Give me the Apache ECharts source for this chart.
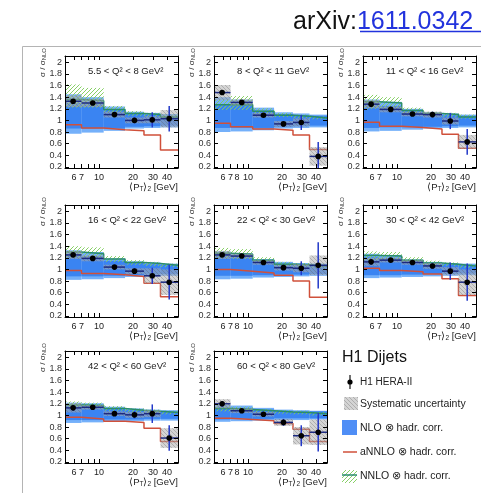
<!DOCTYPE html>
<html><head><meta charset="utf-8">
<script src="https://cdn.jsdelivr.net/npm/echarts@6/dist/echarts.min.js"></script>
<style>html,body{margin:0;padding:0;background:#fff}#c{width:481px;height:493px}</style>
</head><body><div id="c"></div>
<script>
// ---------- data ----------
const binEdges = [5, 7, 11, 17, 25, 35, 50];
const pointX = [5.9, 8.8, 13.7, 20.6, 29.6, 41.8];
const yTicks = [0.2, 0.4, 0.6, 0.8, 1, 1.2, 1.4, 1.6, 1.8, 2];
const xLabelsA = [6, 7, 10, 20, 30, 40];
const xLabelsB = [6, 7, 8, 10, 20, 30, 40];
const xTickVals = [6, 7, 8, 9, 10, 20, 30, 40];
const panelTitles = ['5.5 < Q² < 8 GeV²', '8 < Q² < 11 GeV²', '11 < Q² < 16 GeV²', '16 < Q² < 22 GeV²',
  '22 < Q² < 30 GeV²', '30 < Q² < 42 GeV²', '42 < Q² < 60 GeV²', '60 < Q² < 80 GeV²'];
const panelXLabels = ['A', 'B', 'A', 'A', 'B', 'A', 'A', 'B'];

const dataValues = [
  [1.33, 1.30, 1.10, 1.00, 1.01, 1.03],
  [1.48, 1.31, 1.09, 0.94, 0.965, 0.38],
  [1.28, 1.19, 1.11, 1.10, 0.99, 0.63],
  [1.25, 1.19, 1.04, 0.97, 0.89, 0.78],
  [1.25, 1.23, 1.12, 1.03, 1.02, 1.07],
  [1.13, 1.16, 1.12, 1.06, 0.97, 0.78],
  [1.13, 1.14, 1.03, 1.01, 1.03, 0.61],
  [1.20, 1.08, 1.02, 0.88, 0.65, 0.71]
];
const dataErrors = [
  [0.03, 0.03, 0.03, 0.05, 0.13, 0.22],
  [0.04, 0.03, 0.03, 0.05, 0.13, 0.25],
  [0.03, 0.03, 0.03, 0.05, 0.14, 0.22],
  [0.03, 0.03, 0.03, 0.05, 0.14, 0.30],
  [0.03, 0.03, 0.03, 0.05, 0.12, 0.40],
  [0.05, 0.03, 0.03, 0.05, 0.15, 0.32],
  [0.05, 0.04, 0.03, 0.06, 0.16, 0.22],
  [0.05, 0.03, 0.03, 0.06, 0.18, 0.33]
];
const sysErrors = [
  [0.10, 0.07, 0.05, 0.05, 0.06, 0.15],
  [0.13, 0.05, 0.04, 0.05, 0.07, 0.16],
  [0.07, 0.05, 0.04, 0.05, 0.06, 0.12],
  [0.07, 0.05, 0.04, 0.05, 0.13, 0.22],
  [0.07, 0.04, 0.04, 0.05, 0.07, 0.17],
  [0.07, 0.04, 0.04, 0.05, 0.07, 0.22],
  [0.08, 0.04, 0.04, 0.05, 0.06, 0.17],
  [0.08, 0.04, 0.04, 0.06, 0.15, 0.22]
];
const nloLo = [
  [0.77, 0.79, 0.82, 0.86, 0.87, 0.88],
  [0.80, 0.81, 0.83, 0.86, 0.87, 0.88],
  [0.81, 0.82, 0.84, 0.86, 0.87, 0.88],
  [0.82, 0.83, 0.85, 0.87, 0.88, 0.89],
  [0.83, 0.84, 0.86, 0.87, 0.88, 0.89],
  [0.85, 0.86, 0.87, 0.88, 0.89, 0.90],
  [0.87, 0.88, 0.89, 0.90, 0.91, 0.91],
  [0.89, 0.90, 0.91, 0.92, 0.92, 0.93]
];
const nloHi = [
  [1.45, 1.40, 1.24, 1.15, 1.13, 1.11],
  [1.40, 1.36, 1.22, 1.14, 1.12, 1.10],
  [1.36, 1.32, 1.20, 1.14, 1.12, 1.10],
  [1.33, 1.30, 1.19, 1.14, 1.12, 1.10],
  [1.31, 1.28, 1.18, 1.13, 1.11, 1.10],
  [1.27, 1.25, 1.17, 1.13, 1.11, 1.10],
  [1.22, 1.21, 1.15, 1.12, 1.10, 1.09],
  [1.18, 1.17, 1.13, 1.10, 1.09, 1.08]
];
const nloInnerLo = [
  [0.86, 0.86, 0.86, 0.89, 0.90, 0.91],
  [0.87, 0.87, 0.87, 0.89, 0.90, 0.91],
  [0.87, 0.88, 0.88, 0.89, 0.90, 0.91],
  [0.88, 0.88, 0.89, 0.90, 0.91, 0.92],
  [0.89, 0.89, 0.90, 0.91, 0.91, 0.92],
  [0.90, 0.90, 0.91, 0.92, 0.92, 0.93],
  [0.92, 0.92, 0.93, 0.93, 0.94, 0.94],
  [0.93, 0.94, 0.94, 0.95, 0.95, 0.95]
];
const nloInnerHi = [
  [1.30, 1.28, 1.19, 1.12, 1.10, 1.08],
  [1.28, 1.26, 1.17, 1.11, 1.09, 1.08],
  [1.27, 1.25, 1.16, 1.11, 1.09, 1.08],
  [1.25, 1.23, 1.15, 1.11, 1.09, 1.08],
  [1.24, 1.22, 1.14, 1.10, 1.09, 1.08],
  [1.21, 1.20, 1.13, 1.10, 1.09, 1.08],
  [1.17, 1.16, 1.12, 1.09, 1.08, 1.07],
  [1.14, 1.13, 1.10, 1.08, 1.07, 1.07]
];
const nnloLo = [
  [1.22, 1.22, 1.14, 1.08, 1.06, 1.03],
  [1.18, 1.18, 1.12, 1.06, 1.04, 1.02],
  [1.20, 1.20, 1.12, 1.08, 1.06, 1.03],
  [1.20, 1.19, 1.13, 1.08, 1.06, 1.04],
  [1.19, 1.18, 1.11, 1.06, 1.05, 1.03],
  [1.16, 1.16, 1.11, 1.07, 1.06, 1.03],
  [1.12, 1.12, 1.08, 1.06, 1.04, 1.02],
  [1.07, 1.06, 1.05, 1.03, 1.02, 1.00]
];
const nnloHi = [
  [1.62, 1.56, 1.25, 1.16, 1.13, 1.10],
  [1.36, 1.42, 1.21, 1.13, 1.10, 1.07],
  [1.44, 1.40, 1.22, 1.15, 1.13, 1.10],
  [1.40, 1.38, 1.23, 1.16, 1.13, 1.10],
  [1.37, 1.35, 1.21, 1.13, 1.11, 1.09],
  [1.31, 1.30, 1.21, 1.15, 1.12, 1.09],
  [1.24, 1.22, 1.16, 1.12, 1.10, 1.08],
  [1.17, 1.15, 1.11, 1.09, 1.08, 1.06]
];
const nnloCentral = [
  [1.36, 1.34, 1.19, 1.12, 1.10, 1.06],
  [1.27, 1.27, 1.16, 1.09, 1.07, 1.04],
  [1.32, 1.30, 1.17, 1.12, 1.10, 1.06],
  [1.30, 1.27, 1.18, 1.12, 1.10, 1.07],
  [1.28, 1.26, 1.16, 1.09, 1.08, 1.06],
  [1.24, 1.23, 1.16, 1.11, 1.09, 1.06],
  [1.18, 1.17, 1.12, 1.09, 1.07, 1.05],
  [1.12, 1.10, 1.08, 1.06, 1.05, 1.03]
];
const annloCentral = [
  [0.925, 0.87, 0.84, 0.82, 0.75, 0.49],
  [0.95, 0.89, 0.85, 0.83, 0.75, 0.50],
  [0.97, 0.90, 0.88, 0.85, 0.76, 0.52],
  [0.98, 0.93, 0.91, 0.88, 0.76, 0.53],
  [1.00, 0.97, 0.94, 0.90, 0.80, 0.52],
  [1.02, 0.98, 0.96, 0.92, 0.84, 0.55],
  [0.97, 0.94, 0.90, 0.88, 0.78, 0.55],
  [0.95, 0.93, 0.91, 0.86, 0.76, 0.55]
];

// ---------- styling helpers ----------
function makeHatch(size, bg, color, slash, lw) {
  const c = document.createElement('canvas');
  c.width = c.height = size;
  const g = c.getContext('2d');
  if (bg) { g.fillStyle = bg; g.fillRect(0, 0, size, size); }
  g.strokeStyle = color; g.lineWidth = lw; g.beginPath();
  if (slash) {
    g.moveTo(0, size); g.lineTo(size, 0);
    g.moveTo(-1, 1); g.lineTo(1, -1);
    g.moveTo(size - 1, size + 1); g.lineTo(size + 1, size - 1);
  } else {
    g.moveTo(0, 0); g.lineTo(size, size);
    g.moveTo(-1, size - 1); g.lineTo(1, size + 1);
    g.moveTo(size - 1, -1); g.lineTo(size + 1, 1);
  }
  g.stroke();
  return { image: c, repeat: 'repeat' };
}
const sysFill = makeHatch(4, 'rgba(170,170,170,0.5)', 'rgba(90,90,90,0.4)', false, 0.8);
const greenFill = makeHatch(4, null, 'rgba(130,205,95,0.95)', true, 1);
const blueOuter = '#74b0fa';
const blueInner = '#3a84f2';
const tealCol = '#2a8c6c';
const redCol = '#d0503a';
const FONT = 'Liberation Sans, Arial, Helvetica, sans-serif';

const colLeft = [65, 214, 363];
const rowTop = [56, 205, 351];
const PW = 113, PH = 112;

const grids = [], xAxes = [], yAxes = [], series = [], titles = [], graphics = [];

function bandSeries(i, lo, hi, fill, z) {
  return {
    type: 'custom', xAxisIndex: 2 * i, yAxisIndex: 2 * i, z: z, silent: true, clip: true,
    encode: { x: [0, 1], y: [2, 3] },
    data: lo.map((l, k) => [binEdges[k], binEdges[k + 1], l, hi[k]]),
    renderItem: function (p, api) {
      const a = api.coord([api.value(0), api.value(3)]);
      const b = api.coord([api.value(1), api.value(2)]);
      return { type: 'rect', shape: { x: a[0], y: a[1], width: b[0] - a[0], height: b[1] - a[1] }, style: { fill: fill } };
    }
  };
}
function stepSeries(i, vals, color, z) {
  const d = vals.map((v, k) => [binEdges[k], v]);
  d.push([binEdges[binEdges.length - 1], vals[vals.length - 1]]);
  return {
    type: 'line', xAxisIndex: 2 * i, yAxisIndex: 2 * i, z: z, silent: true, step: 'end',
    showSymbol: false, symbol: 'none', data: d,
    lineStyle: { color: color, width: 1.5 }
  };
}

for (let i = 0; i < 8; i++) {
  const col = i % 3, row = Math.floor(i / 3);
  const L = colLeft[col], T = rowTop[row];
  grids.push({ left: L, top: T, width: PW, height: PH });
  const labs = panelXLabels[i] === 'A' ? xLabelsA : xLabelsB;
  const xBase = {
    type: 'log', logBase: 10, gridIndex: i, min: 5, max: 50, z: 10,
    axisLine: { show: true, onZero: false, lineStyle: { color: '#000', width: 1 } },
    axisTick: { show: true, inside: true, length: 4, customValues: xTickVals, lineStyle: { color: '#000' } },
    splitLine: { show: false }, minorTick: { show: false }
  };
  xAxes.push(Object.assign({}, xBase, {
    position: 'bottom',
    axisLabel: { show: true, customValues: labs, fontSize: 9, color: '#222', margin: 5, fontFamily: FONT,
      formatter: v => String(Math.round(v)) }
  }));
  xAxes.push(Object.assign({}, xBase, { position: 'top', axisLabel: { show: false } }));
  const yBase = {
    type: 'value', gridIndex: i, min: 0.18, max: 2.11, z: 10,
    axisLine: { show: true, onZero: false, lineStyle: { color: '#000', width: 1 } },
    axisTick: { show: true, inside: true, length: 4, customValues: yTicks, lineStyle: { color: '#000' } },
    splitLine: { show: false }
  };
  yAxes.push(Object.assign({}, yBase, {
    position: 'left',
    axisLabel: { show: true, customValues: yTicks, fontSize: 9, color: '#333', margin: 3, fontFamily: FONT }
  }));
  yAxes.push(Object.assign({}, yBase, { position: 'right', axisLabel: { show: false } }));

  series.push(bandSeries(i, nloLo[i], nloHi[i], blueOuter, 1));
  series.push(bandSeries(i, nloInnerLo[i], nloInnerHi[i], blueInner, 2));
  series.push(bandSeries(i, nnloLo[i], nnloHi[i], greenFill, 3));
  series.push(stepSeries(i, nnloCentral[i], tealCol, 4));
  series.push(stepSeries(i, annloCentral[i], redCol, 5));
  series.push(bandSeries(i, dataValues[i].map((v, k) => v - sysErrors[i][k]),
    dataValues[i].map((v, k) => v + sysErrors[i][k]), sysFill, 6));
  series.push({
    type: 'custom', xAxisIndex: 2 * i, yAxisIndex: 2 * i, z: 7, silent: true, clip: true,
    encode: { x: [0, 1, 2], y: [3] },
    data: dataValues[i].map((v, k) => [binEdges[k], binEdges[k + 1], pointX[k], v, dataErrors[i][k]]),
    renderItem: function (p, api) {
      const v = api.value(3), e = api.value(4);
      const a = api.coord([api.value(0), v]), b = api.coord([api.value(1), v]);
      const c = api.coord([api.value(2), v]);
      const up = api.coord([api.value(2), v + e]), dn = api.coord([api.value(2), v - e]);
      return { type: 'group', children: [
        { type: 'line', shape: { x1: a[0], y1: a[1], x2: b[0], y2: b[1] }, style: { stroke: '#1c2a80', lineWidth: 1.5 } },
        { type: 'line', shape: { x1: up[0], y1: up[1], x2: dn[0], y2: dn[1] }, style: { stroke: '#2238c8', lineWidth: 1.5 } },
        { type: 'circle', shape: { cx: c[0], cy: c[1], r: 2.8 }, style: { fill: '#000' } }
      ] };
    }
  });

  titles.push({ text: panelTitles[i], left: L + 18, top: T + 5,
    textStyle: { fontSize: 9.5, fontWeight: 'normal', color: '#222', fontFamily: FONT } });

  graphics.push({ type: 'text', x: L - 22, y: T - 8, rotation: Math.PI / 2, z: 20,
    style: { text: 'σ / σ{s|NLO}', align: 'right', verticalAlign: 'middle', fill: '#333',
      font: '8px ' + FONT, rich: { s: { fontSize: 6, fill: '#333', verticalAlign: 'bottom', padding: [3, 0, 0, 0] } } } });
  graphics.push({ type: 'text', x: L + PW, y: T + PH + 19, z: 20,
    style: { text: '⟨P{s|T}⟩{s|2} [GeV]', align: 'right', verticalAlign: 'middle', fill: '#222',
      font: '9.5px ' + FONT, rich: { s: { fontSize: 6.5, fill: '#222', verticalAlign: 'bottom', padding: [4, 0, 0, 0] } } } });
}

// frame, header
graphics.push({ type: 'rect', z: -1, shape: { x: 22.5, y: 46.5, width: 500, height: 500 },
  style: { fill: 'none', stroke: '#b4b4b4', lineWidth: 1 } });
graphics.push({ type: 'text', x: 293, y: 22, z: 20,
  style: { text: 'arXiv:{l|1611.0342}', align: 'left', verticalAlign: 'middle', fill: '#111', font: '25px ' + FONT,
    rich: { l: { fill: '#2233dd', fontSize: 25, fontFamily: FONT } } } });
graphics.push({ type: 'line', z: 20, shape: { x1: 360, y1: 31.5, x2: 481, y2: 31.5 }, style: { stroke: '#2233dd', lineWidth: 1.5 } });

// legend
graphics.push({ type: 'text', x: 342, y: 358, z: 20, style: { text: 'H1 Dijets', verticalAlign: 'middle', fill: '#111', font: '16px ' + FONT } });
graphics.push({ type: 'line', z: 20, shape: { x1: 350, y1: 375, x2: 350, y2: 389 }, style: { stroke: '#222', lineWidth: 1.3 } });
graphics.push({ type: 'circle', z: 21, shape: { cx: 350, cy: 382, r: 2.6 }, style: { fill: '#000' } });
graphics.push({ type: 'text', x: 360, y: 382, z: 20, style: { text: 'H1 HERA-II', verticalAlign: 'middle', fill: '#222', font: '10px ' + FONT } });
graphics.push({ type: 'rect', z: 20, shape: { x: 344, y: 397, width: 14, height: 13 }, style: { fill: sysFill } });
graphics.push({ type: 'text', x: 360, y: 404, z: 20, style: { text: 'Systematic uncertainty', verticalAlign: 'middle', fill: '#222', font: '10.5px ' + FONT } });
graphics.push({ type: 'rect', z: 20, shape: { x: 342, y: 420, width: 15, height: 15 }, style: { fill: '#4f8ef6' } });
graphics.push({ type: 'text', x: 360, y: 428, z: 20, style: { text: 'NLO ⊗ hadr. corr.', verticalAlign: 'middle', fill: '#222', font: '10.5px ' + FONT } });
graphics.push({ type: 'line', z: 20, shape: { x1: 343, y1: 452, x2: 357, y2: 452 }, style: { stroke: redCol, lineWidth: 1.5 } });
graphics.push({ type: 'text', x: 360, y: 452, z: 20, style: { text: 'aNNLO ⊗ hadr. corr.', verticalAlign: 'middle', fill: '#222', font: '10.5px ' + FONT } });
graphics.push({ type: 'rect', z: 20, shape: { x: 342, y: 470, width: 15, height: 13 }, style: { fill: greenFill } });
graphics.push({ type: 'line', z: 21, shape: { x1: 342, y1: 475, x2: 357, y2: 475 }, style: { stroke: tealCol, lineWidth: 1.5 } });
graphics.push({ type: 'text', x: 360, y: 476, z: 20, style: { text: 'NNLO ⊗ hadr. corr.', verticalAlign: 'middle', fill: '#222', font: '10.5px ' + FONT } });

const chart = echarts.init(document.getElementById('c'), null, { renderer: 'canvas', width: 481, height: 493 });
chart.setOption({
  animation: false,
  backgroundColor: '#fff',
  textStyle: { fontFamily: FONT },
  title: titles,
  grid: grids,
  xAxis: xAxes,
  yAxis: yAxes,
  series: series,
  graphic: { elements: graphics }
});
</script></body></html>
